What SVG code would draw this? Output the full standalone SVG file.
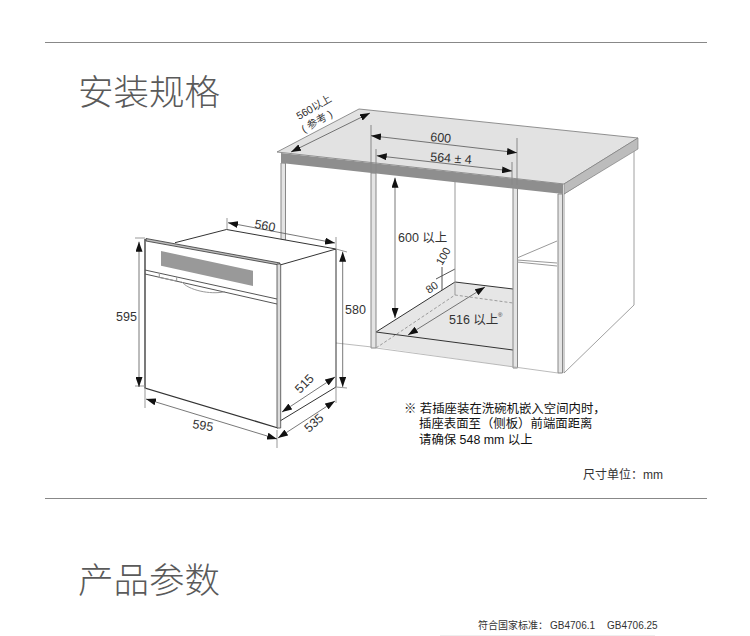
<svg xmlns="http://www.w3.org/2000/svg" width="750" height="636" viewBox="0 0 750 636">
<style>
text{font-family:"Liberation Sans","Noto Sans CJK SC",sans-serif;fill:#333}
.d{font-size:12.5px}
.h{font-size:35.5px;fill:#5a5a5a;font-family:"Noto Sans CJK SC",sans-serif;font-weight:300}
.n{font-size:12.4px;fill:#111}
.l{stroke:#555;stroke-width:1;fill:none}
.t{stroke:#999;stroke-width:1;fill:none}
.k{stroke:#333;stroke-width:1;fill:none}
.a{stroke:#555;stroke-width:.8;fill:none;marker-start:url(#m);marker-end:url(#m)}
.p{fill:#e4e4e4;stroke:#888;stroke-width:1}
</style>
<defs>
<marker id="m" viewBox="0 0 10 7" refX="10" refY="3.500" markerWidth="10" markerHeight="7" markerUnits="userSpaceOnUse" orient="auto-start-reverse"><path d="M0 0L10 3.500L0 7z" fill="#111"/></marker>
</defs>
<rect width="750" height="636" fill="#fff"/>
<g id="rules">
<path d="M45 42.500H707M45 498.500H707" stroke="#888" stroke-width="1"/>
<path d="M440 635.500H655" stroke="#eee" stroke-width="1"/>
</g>
<g id="headings">
<text class="h" x="78" y="105">安装规格</text>
<text class="h" x="78" y="593">产品参数</text>
</g>
<g id="cabinet">
<path d="M564 194V373L634 305V150Z" fill="#fff" stroke="#888" stroke-width=".8"/>
<path d="M376 332L455 282L513 289V367L376 347Z" fill="#e6e6e6"/>
<path d="M376 332L455 282L513 289M376 332L513 350" class="k"/>
<path d="M376 348L455 295L513 303" fill="none" stroke="#888" stroke-width=".8" stroke-dasharray="3 2"/>
<path d="M442 290V267M436 279L455 269" class="l"/>
<path d="M455 172V295" class="t"/>
<path d="M281 163H285.500V240H281Z" class="p"/>
<path d="M371 173H376V348H371Z" class="p"/>
<path d="M513 185H517.500V368H513Z" class="p"/>
<path d="M558 194H562.500V373H558Z" class="p"/>
<path d="M517 258L557 241M517 260L557 263M517 262L557 266" class="t"/>
<path d="M277 152L359 109L638 138L564 184Z" fill="#e2e2e2" stroke="#777" stroke-width=".8"/>
<path d="M281 153V163L563 194V184Z" fill="#8e8e8e"/>
<path d="M564 184L638 138V149L564 194Z" fill="#bcbcbc" stroke="#777" stroke-width=".6"/>
<path d="M371 125V173M517 138V185M376 149V173M512 162V185" stroke="#888" stroke-width="1"/>
<path d="M336 343L372 347M376 348L558 373" stroke="#aaa" fill="none" stroke-width=".8"/>
</g>
<g id="oven">
<path d="M226.500 229.500L336 249V387L280 423L145 388V240Z" fill="#fff"/>
<path d="M175 242.700L226.500 229.500L336 249L280 265M336 249V387L280 421" class="k"/>
<path d="M145 239V388L278 428" fill="none" stroke="#333" stroke-width="1.300"/>
<path d="M146 238.500L280 263L279 265L146 241Z" fill="#bbb" stroke="#333" stroke-width=".8"/>
<path d="M277 264H280.700V428H277Z" fill="#ddd" stroke="#444" stroke-width=".8"/>
<path d="M161 251L253 270.700V286L161 265.700Z" fill="#999"/>
<path d="M145 270L277 299M145 274L277 304" class="l"/>
<path d="M159.300 273V277.500L176.700 281V277" class="t"/>
<path d="M181.700 281.700C188 290 210 295 225 291.700" class="t"/>
</g>
<g id="connectors">
<path d="M227 218V229M336 237V249M135 238H145M135 386H145M336 249L347 252M336 387L347 388M145 388V408M277 430V448M336 387V403" class="t"/>
<path class="a" d="M228 222.700L335 243"/>
<path class="a" d="M139 241.700V387"/>
<path class="a" d="M342.700 251.700V387"/>
<path class="a" d="M146 399L277 439"/>
<path class="a" d="M282 412L335 377"/>
<path class="a" d="M278 438L335 401"/>
<path class="a" d="M291 152L370 113"/>
<path class="a" d="M371 135.700L517 152.700"/>
<path class="a" d="M376.700 155.700L512 171"/>
<path class="a" d="M395 177.700V318"/>
<path class="a" d="M408 335L485 287"/>
</g>
<g id="labels">
<text class="d" x="254" y="228" transform="rotate(10 254 228)">560</text>
<text class="d" x="116" y="321">595</text>
<text class="d" x="345" y="314">580</text>
<text class="d" x="192" y="428" transform="rotate(9 192 428)">595</text>
<text class="d" x="300" y="394" transform="rotate(-45 300 394)">515</text>
<text class="d" x="309" y="433" transform="rotate(-42 309 433)">535</text>
<text x="299" y="120" transform="rotate(-30 299 120)" style="font-size:10.500px">560以上</text>
<text x="304" y="133" transform="rotate(-30 304 133)" style="font-size:10.500px">( 参考 )</text>
<text class="d" x="430" y="141" transform="rotate(5 430 141)">600</text>
<text class="d" x="430" y="161" transform="rotate(4 430 161)">564 ± 4</text>
<text class="d" x="398" y="242">600 以上</text>
<text x="442" y="266" transform="rotate(-60 442 266)" style="font-size:11px">100</text>
<text x="429" y="294" transform="rotate(-35 429 294)" style="font-size:11px">80</text>
<text class="d" x="449" y="324">516 以上</text>
<text x="498" y="317" style="font-size:6px">®</text>
<text class="n" x="404" y="413">※ 若插座装在洗碗机嵌入空间内时，</text>
<text class="n" x="419" y="428">插座表面至（侧板）前端面距离</text>
<text class="n" x="419" y="444">请确保 548 mm 以上</text>
<text x="583" y="479" style="font-size:12px">尺寸单位：mm</text>
<text x="478" y="629" style="font-size:10px">符合国家标准：</text>
<text x="550" y="629" style="font-size:10px">GB4706.1</text>
<text x="607" y="629" style="font-size:10px">GB4706.25</text>
</g>
</svg>
